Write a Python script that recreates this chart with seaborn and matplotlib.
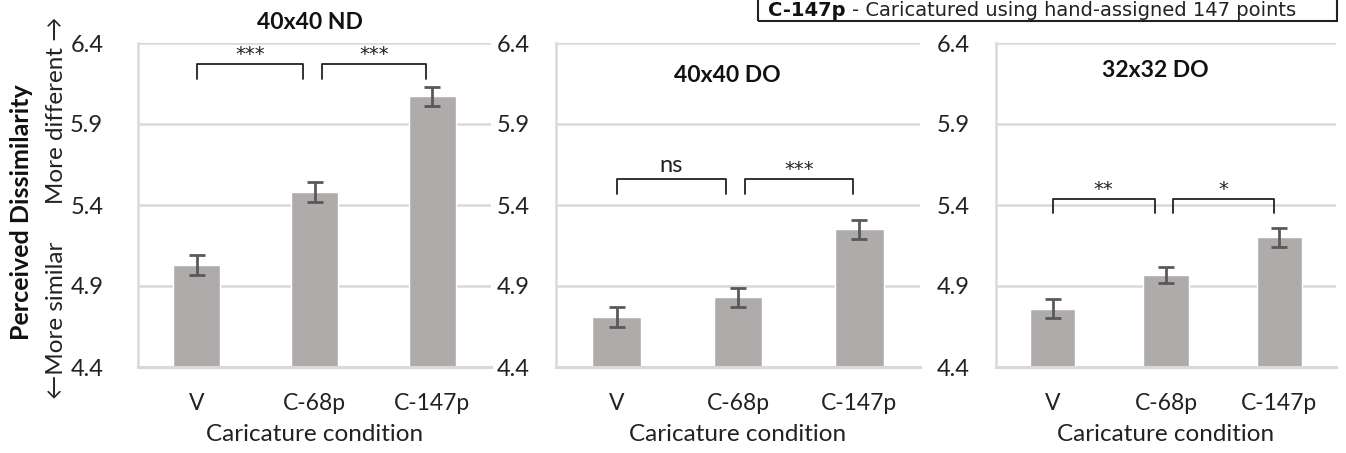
import numpy as np
import matplotlib
matplotlib.use("Agg")
import matplotlib.pyplot as plt
import seaborn as sns
from matplotlib.patches import Rectangle

# data
conditions = ["V", "C-68p", "C-147p"]
panel_titles = ["40x40 ND", "40x40 DO", "32x32 DO"]
means_nd40 = [5.03, 5.48, 6.07]
errs_nd40 = [0.06, 0.06, 0.06]
means_do40 = [4.71, 4.83, 5.25]
errs_do40 = [0.06, 0.06, 0.06]
means_do32 = [4.76, 4.97, 5.20]
errs_do32 = [0.06, 0.05, 0.06]
sig_left = ["***", "ns", "**"]
sig_right = ["***", "***", "*"]
bracket_top = [6.27, 5.56, 5.44]
yticks = [4.4, 4.9, 5.4, 5.9, 6.4]

sns.set_theme(style="white")
plt.rcParams['font.family'] = ['Lato', 'DejaVu Sans']

bar_color = "#AFABAB"
err_color = "#595959"
grid_color = "#D9D9D9"

fig = plt.figure(figsize=(13.46, 4.53), dpi=100)
W, H = 1346, 453

def px_axes(left, right, top=43, bottom=367):
    return fig.add_axes([left / W, 1 - bottom / H, (right - left) / W, (bottom - top) / H])

axes = [px_axes(138, 491), px_axes(556, 920), px_axes(996, 1336)]
all_means = [means_nd40, means_do40, means_do32]
all_errs = [errs_nd40, errs_do40, errs_do32]
ypads = [25, 19, 19]
title_pos = [(0.487, 1.062), (0.47, 0.901), (0.468, 0.914)]

for i, ax in enumerate(axes):
    sns.barplot(x=conditions, y=all_means[i], color=bar_color, saturation=1,
                width=0.4, errorbar=None, ax=ax, zorder=2)
    ax.errorbar(range(len(conditions)), all_means[i], yerr=all_errs[i], fmt='none',
                ecolor=err_color, elinewidth=2, capsize=6, capthick=2, zorder=3)
    ax.set_ylim(4.4, 6.4)
    ax.set_xlim(-0.5, 2.5)
    ax.set_yticks(yticks)
    ax.set_yticklabels([f"{t:.1f}" for t in yticks])
    ax.tick_params(axis='y', length=0, pad=ypads[i], labelsize=17, labelcolor="#222222")
    ax.tick_params(axis='x', length=0, pad=19, labelsize=16.5, labelcolor="#222222")
    ax.yaxis.grid(True, color=grid_color, lw=1.8)
    ax.set_axisbelow(True)
    for s in ["top", "right"]:
        ax.spines[s].set_visible(False)
    ax.spines["left"].set_color(grid_color)
    ax.spines["left"].set_linewidth(1.8)
    ax.spines["bottom"].set_color(grid_color)
    ax.spines["bottom"].set_linewidth(2.2)
    ax.set_xlabel("Caricature condition", fontsize=17.5, labelpad=7, color="#222222")
    ax.set_ylabel("")
    tx, ty = title_pos[i]
    ax.text(tx, ty, panel_titles[i], transform=ax.transAxes, ha='center', va='center',
            fontsize=16.5, fontweight='bold', color="#111111", clip_on=False)

    # significance brackets
    top = bracket_top[i]
    drop = 0.09
    for (x0, x1), lab in [((0.0, 0.9), sig_left[i]), ((1.06, 1.95), sig_right[i])]:
        ax.plot([x0, x0, x1, x1], [top - drop, top, top, top - drop], color="#222222",
                lw=1.3, clip_on=False, zorder=4)
        if lab == "ns":
            ax.text((x0 + x1) / 2, top + 0.02, lab, ha='center', va='bottom',
                    fontsize=17, color="#222222", clip_on=False)
        else:
            ax.text((x0 + x1) / 2, top + 0.0, lab, ha='center', va='bottom',
                    fontsize=14, color="#222222", family='DejaVu Sans', clip_on=False)

# y axis label on the left
fig.text(22 / W, 1 - 212 / H, "Perceived Dissimilarity", rotation=90, ha='center',
         va='center', fontsize=18, fontweight='bold', color="#111111")
fig.text(57 / W, 1 - 208 / H, "\u2190More similar      More different \u2192", rotation=90,
         ha='center', va='center', fontsize=17.5, color="#222222")

# legend box at the top edge
fig.patches.append(Rectangle((758 / W, 1 - 21 / H), (1337 - 758) / W, 40 / H,
                             transform=fig.transFigure, fill=False, edgecolor="#222222",
                             lw=1.5, clip_on=False))
t1 = fig.text(768 / W, 1 - 16 / H, "C-147p", fontsize=14, fontweight='bold',
              va='baseline', ha='left', color="#111111", family='DejaVu Sans')
fig.canvas.draw()
bb = t1.get_window_extent()
fig.text((bb.x1 + 6) / W, 1 - 16 / H, "- Caricatured using hand-assigned 147 points",
         fontsize=14, va='baseline', ha='left', color="#222222", family='DejaVu Sans')

fig.savefig("out.png", dpi=100)
